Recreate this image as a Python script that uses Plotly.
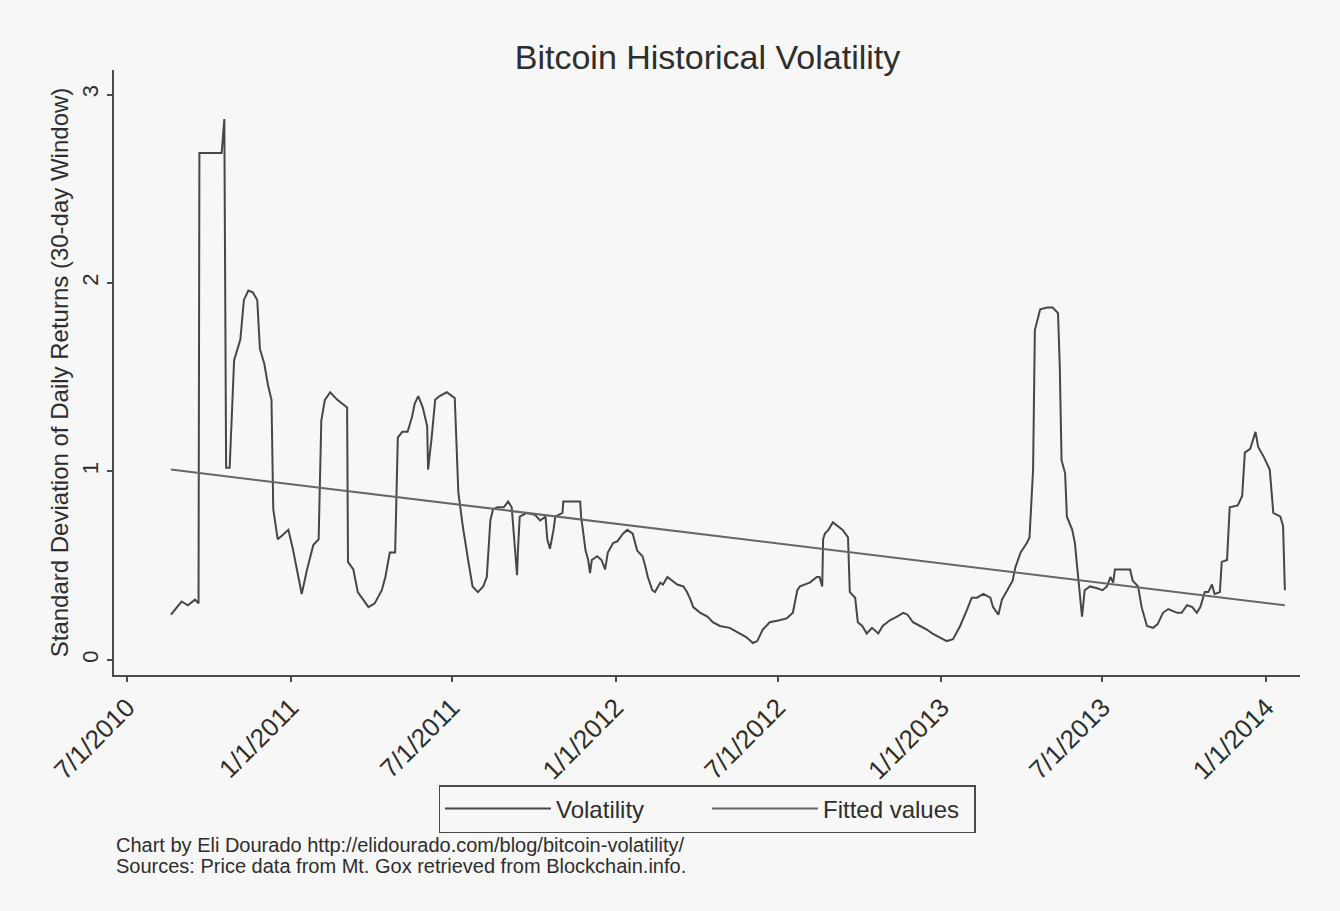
import plotly.graph_objects as go

# ---- data ----
vol_dates = [
    "2010-08-19", "2010-08-26", "2010-08-31", "2010-09-07", "2010-09-15", "2010-09-19",
    "2010-09-20", "2010-10-15", "2010-10-18", "2010-10-20", "2010-10-24", "2010-10-29",
    "2010-11-05", "2010-11-09", "2010-11-14", "2010-11-19", "2010-11-24", "2010-11-27",
    "2010-12-02", "2010-12-06", "2010-12-10", "2010-12-12", "2010-12-17", "2010-12-22",
    "2010-12-29", "2011-01-03", "2011-01-09", "2011-01-13", "2011-01-19", "2011-01-26",
    "2011-02-01", "2011-02-04", "2011-02-08", "2011-02-14", "2011-02-22", "2011-03-05",
    "2011-03-06", "2011-03-12", "2011-03-17", "2011-03-23", "2011-03-29", "2011-04-05",
    "2011-04-13", "2011-04-17", "2011-04-22", "2011-04-28", "2011-05-01", "2011-05-06",
    "2011-05-12", "2011-05-17", "2011-05-20", "2011-05-24", "2011-05-29", "2011-06-03",
    "2011-06-04", "2011-06-08", "2011-06-12", "2011-06-17", "2011-06-25", "2011-07-01",
    "2011-07-04", "2011-07-08", "2011-07-13", "2011-07-19", "2011-07-24", "2011-07-30",
    "2011-08-05", "2011-08-09", "2011-08-13", "2011-08-16", "2011-08-21", "2011-08-28",
    "2011-09-02", "2011-09-06", "2011-09-10", "2011-09-12", "2011-09-13", "2011-09-15",
    "2011-09-23", "2011-10-02", "2011-10-08", "2011-10-14", "2011-10-16", "2011-10-19",
    "2011-10-23", "2011-10-25", "2011-11-02", "2011-11-03", "2011-11-22", "2011-11-23",
    "2011-11-25", "2011-11-28", "2011-12-01", "2011-12-03", "2011-12-05", "2011-12-11",
    "2011-12-16", "2011-12-20", "2011-12-23", "2011-12-29", "2012-01-03", "2012-01-09",
    "2012-01-14", "2012-01-20", "2012-01-25", "2012-01-31", "2012-02-03", "2012-02-06",
    "2012-02-11", "2012-02-14", "2012-02-20", "2012-02-23", "2012-02-28", "2012-03-04",
    "2012-03-10", "2012-03-17", "2012-03-21", "2012-03-25", "2012-03-28", "2012-04-05",
    "2012-04-13", "2012-04-19", "2012-04-27", "2012-05-08", "2012-05-20", "2012-05-27",
    "2012-06-03", "2012-06-08", "2012-06-14", "2012-06-22", "2012-07-03", "2012-07-11",
    "2012-07-18", "2012-07-23", "2012-07-26", "2012-08-06", "2012-08-14", "2012-08-17",
    "2012-08-20", "2012-08-21", "2012-08-23", "2012-08-27", "2012-09-01", "2012-09-07",
    "2012-09-12", "2012-09-18", "2012-09-20", "2012-09-26", "2012-09-29", "2012-10-04",
    "2012-10-09", "2012-10-15", "2012-10-22", "2012-10-27", "2012-11-04", "2012-11-12",
    "2012-11-19", "2012-11-24", "2012-11-30", "2012-12-08", "2012-12-16", "2012-12-22",
    "2012-12-30", "2013-01-07", "2013-01-14", "2013-01-22", "2013-01-30", "2013-02-04",
    "2013-02-10", "2013-02-17", "2013-02-25", "2013-02-28", "2013-03-06", "2013-03-10",
    "2013-03-16", "2013-03-22", "2013-03-25", "2013-03-31", "2013-04-07", "2013-04-10",
    "2013-04-14", "2013-04-16", "2013-04-22", "2013-04-30", "2013-05-06", "2013-05-12",
    "2013-05-14", "2013-05-16", "2013-05-20", "2013-05-22", "2013-05-28", "2013-05-31",
    "2013-06-02", "2013-06-05", "2013-06-08", "2013-06-11", "2013-06-17", "2013-06-25",
    "2013-07-01", "2013-07-06", "2013-07-10", "2013-07-13", "2013-07-15", "2013-08-01",
    "2013-08-04", "2013-08-10", "2013-08-14", "2013-08-20", "2013-08-27", "2013-09-01",
    "2013-09-07", "2013-09-13", "2013-09-23", "2013-09-28", "2013-10-04", "2013-10-10",
    "2013-10-15", "2013-10-19", "2013-10-24", "2013-10-28", "2013-11-01", "2013-11-04",
    "2013-11-10", "2013-11-12", "2013-11-18", "2013-11-21", "2013-11-30", "2013-12-05",
    "2013-12-08", "2013-12-14", "2013-12-20", "2013-12-23", "2013-12-29", "2014-01-05",
    "2014-01-09", "2014-01-17", "2014-01-20", "2014-01-22",
]
vol_values = [
    0.24, 0.28, 0.31, 0.29, 0.32, 0.30,
    2.69, 2.69, 2.87, 1.02, 1.02, 1.59,
    1.70, 1.91, 1.96, 1.95, 1.91, 1.65,
    1.57, 1.46, 1.38, 0.80, 0.64, 0.66,
    0.69, 0.59, 0.45, 0.35, 0.48, 0.61,
    0.64, 1.27, 1.38, 1.42, 1.38, 1.34,
    0.52, 0.48, 0.36, 0.32, 0.28, 0.30,
    0.37, 0.44, 0.57, 0.57, 1.18, 1.21,
    1.21, 1.29, 1.36, 1.40, 1.34, 1.24,
    1.01, 1.18, 1.38, 1.40, 1.42, 1.40,
    1.39, 0.89, 0.71, 0.53, 0.39, 0.36,
    0.39, 0.44, 0.74, 0.80, 0.81, 0.81,
    0.84, 0.81, 0.55, 0.45, 0.58, 0.76,
    0.78, 0.77, 0.74, 0.76, 0.64, 0.59,
    0.69, 0.76, 0.78, 0.84, 0.84, 0.76,
    0.69, 0.58, 0.53, 0.46, 0.53, 0.55,
    0.53, 0.48, 0.57, 0.62, 0.63, 0.67,
    0.69, 0.67, 0.58, 0.55, 0.50, 0.44,
    0.37, 0.36, 0.41, 0.40, 0.44, 0.42,
    0.40, 0.39, 0.36, 0.32, 0.28, 0.25,
    0.23, 0.20, 0.18, 0.17, 0.14, 0.12,
    0.09, 0.10, 0.16, 0.20, 0.21, 0.22,
    0.25, 0.37, 0.39, 0.41, 0.44, 0.44,
    0.39, 0.64, 0.67, 0.69, 0.73, 0.71,
    0.69, 0.65, 0.36, 0.33, 0.20, 0.18,
    0.14, 0.17, 0.14, 0.18, 0.21, 0.23,
    0.25, 0.24, 0.20, 0.18, 0.16, 0.14,
    0.12, 0.10, 0.11, 0.18, 0.27, 0.33,
    0.33, 0.35, 0.33, 0.28, 0.24, 0.32,
    0.37, 0.42, 0.49, 0.57, 0.62, 0.65,
    1.01, 1.75, 1.86, 1.87, 1.87, 1.84,
    1.56, 1.06, 0.99, 0.76, 0.69, 0.62,
    0.52, 0.37, 0.23, 0.37, 0.39, 0.38,
    0.37, 0.39, 0.44, 0.41, 0.48, 0.48,
    0.42, 0.39, 0.28, 0.18, 0.17, 0.19,
    0.25, 0.27, 0.25, 0.25, 0.29, 0.28,
    0.25, 0.28, 0.36, 0.36, 0.40, 0.35,
    0.36, 0.52, 0.53, 0.81, 0.82, 0.87,
    1.10, 1.12, 1.21, 1.13, 1.08, 1.01,
    0.78, 0.76, 0.71, 0.37,
]

fit_dates = ["2010-08-19", "2014-01-22"]
fit_values = [1.01, 0.29]

x_tick_vals = ["2010-07-01", "2011-01-01", "2011-07-01", "2012-01-01",
               "2012-07-01", "2013-01-01", "2013-07-01", "2014-01-01"]
x_tick_text = ["7/1/2010", "1/1/2011", "7/1/2011", "1/1/2012",
               "7/1/2012", "1/1/2013", "7/1/2013", "1/1/2014"]
y_tick_vals = [0, 1, 2, 3]

title_text = "Bitcoin Historical Volatility"
y_title = "Standard Deviation of Daily Returns (30-day Window)"
note_lines = [
    "Chart by Eli Dourado http://elidourado.com/blog/bitcoin-volatility/",
    "Sources: Price data from Mt. Gox retrieved from Blockchain.info.",
]

# ---- figure ----
BG = "#f7f7f7"
INK = "#4a4a4a"
TXT = "#2e2e2e"
FONT = "Liberation Sans, Arial, sans-serif"
W, H = 1340, 905
M_L, M_R, M_T, M_B = 114, 40, 70, 230
plot_h = H - M_T - M_B
bottom_px = H - M_B  # page row of the x-axis line

fig = go.Figure()
fig.add_trace(go.Scatter(
    x=vol_dates, y=vol_values, mode="lines", name="Volatility",
    line=dict(color="#474747", width=2),
))
fig.add_trace(go.Scatter(
    x=fit_dates, y=fit_values, mode="lines", name="Fitted values",
    line=dict(color="#666666", width=2),
))

fig.update_layout(
    width=W, height=H,
    paper_bgcolor=BG, plot_bgcolor=BG,
    font=dict(family=FONT, color=TXT),
    margin=dict(l=M_L, r=M_R, t=M_T, b=M_B),
    title=dict(text=title_text, x=0.528, xanchor="center", y=1 - 57 / H, yanchor="middle",
               font=dict(size=34, color=TXT)),
    showlegend=True,
    legend=dict(
        orientation="h", x=0.5, xanchor="center",
        y=-(785 - bottom_px) / plot_h, yanchor="top",
        bordercolor=INK, borderwidth=1.5, bgcolor=BG,
        font=dict(size=24, color=TXT),
        itemwidth=106,
        entrywidth=146, entrywidthmode="pixels",
        traceorder="normal",
    ),
)

fig.update_xaxes(
    type="date",
    range=["2010-06-16", "2014-02-08"],
    tickvals=x_tick_vals, ticktext=x_tick_text,
    tickangle=-45, tickfont=dict(size=26, color=TXT),
    showgrid=False, zeroline=False,
    showline=True, linecolor=INK, linewidth=2,
    ticks="outside", ticklen=5, tickcolor=INK, tickwidth=1.5,
)
fig.update_yaxes(
    range=[-0.08, 3.13],
    tickvals=y_tick_vals, ticktext=[str(v) for v in y_tick_vals],
    tickangle=-90, tickfont=dict(size=22, color=TXT),
    showgrid=False, zeroline=False,
    showline=True, linecolor=INK, linewidth=2,
    ticks="outside", ticklen=5, tickcolor=INK, tickwidth=1.5,
    title=dict(text=y_title, font=dict(size=24, color=TXT), standoff=3),
)

for i, line in enumerate(note_lines):
    fig.add_annotation(
        text=line, xref="paper", yref="paper",
        x=0.0, y=-(845 + 21 * i - bottom_px) / plot_h,
        xanchor="left", yanchor="middle",
        showarrow=False, font=dict(size=20, color=TXT),
    )

fig.write_html(
    "out.html",
    config={"displayModeBar": False},
    post_script="document.body.style.margin='0';"
                "document.body.style.background='#f7f7f7';"
                "document.documentElement.style.background='#f7f7f7';",
)
